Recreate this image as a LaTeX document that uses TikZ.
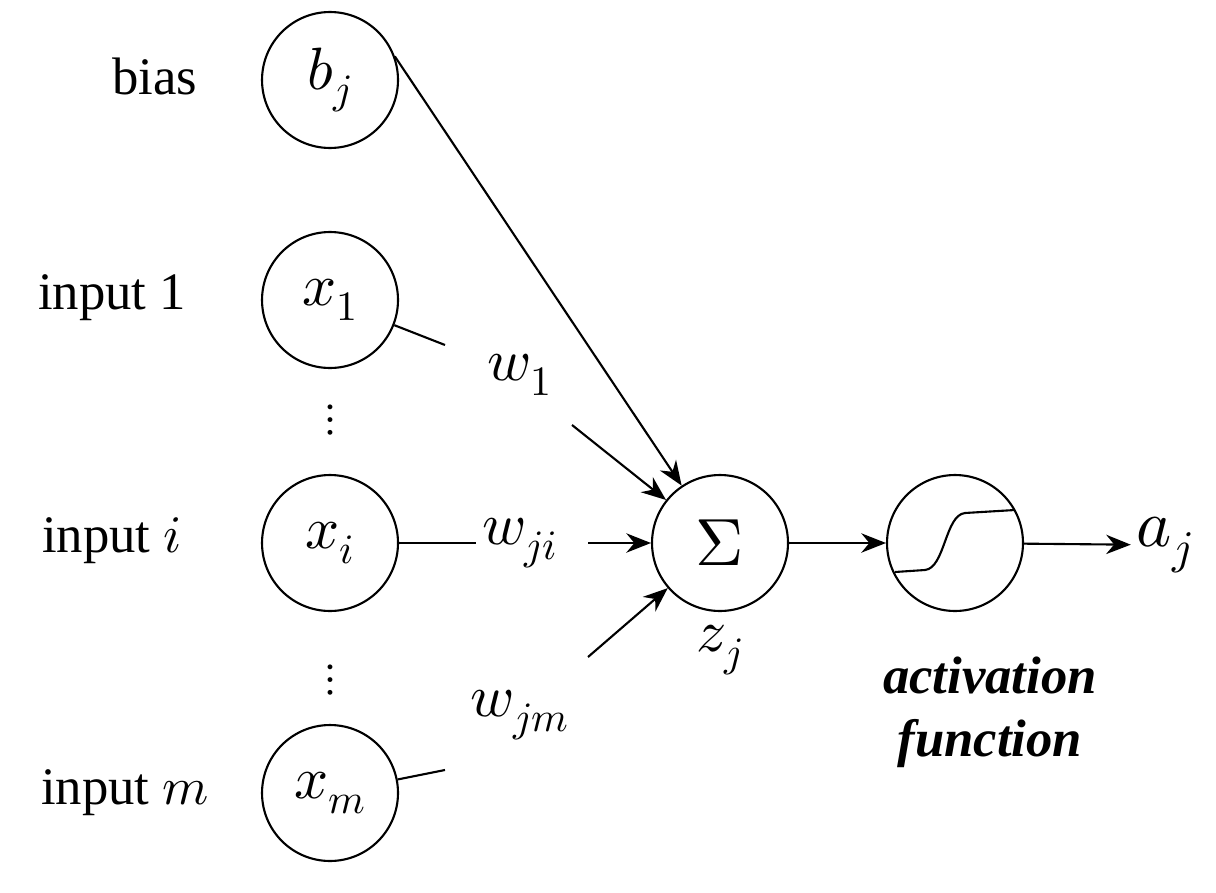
\documentclass[tikz,border=0pt]{standalone}
\usepackage{fontspec}
\usepackage{unicode-math}
\setmainfont{Liberation Serif}
\setmathfont{Latin Modern Math}
\usetikzlibrary{arrows.meta}
\begin{document}
\begin{tikzpicture}[x=0.02cm,y=-0.02cm,
  unit/.style={draw,circle,line width=1.2pt,minimum size=2.72cm,inner sep=0pt},
  lbl/.style={font=\fontsize{30}{36}\selectfont},
  mth/.style={font=\fontsize{34}{40}\selectfont},
  conn/.style={line width=1.2pt},
  arr/.style={conn,-{Stealth[length=14pt,width=11pt]}}]
\useasboundingbox (0,0) rectangle (1216,892);
\node[unit,mth] (b) at (330,80) {$b_j$};
\node[unit,mth] (x1) at (330,300) {$x_1$};
\node[unit,mth] (xi) at (330,543) {$x_i$};
\node[unit,mth] (xm) at (330,793) {$x_m$};
\node[unit,font=\fontsize{38}{44}\selectfont] (s) at (720,543) {$\Sigma$};
\node[unit] (f) at (955,543) {};
\node[lbl] (lb) at (155,76) {bias};
\node[lbl] (l1) at (112,298) {input 1};
\node[lbl] (li) at (112,541) {input $i$};
\node[lbl] (lm) at (125,793) {input $m$};
\node[font=\fontsize{26}{26}\selectfont\bfseries,inner sep=0pt] (d1) at (330,420) {$\vdots$};
\node[font=\fontsize{26}{26}\selectfont\bfseries,inner sep=0pt] (d2) at (330,680) {$\vdots$};
\node[mth] (w1) at (520,375) {$w_1$};
\node[mth] (wi) at (520,543) {$w_{ji}$};
\node[mth] (wm) at (520,715) {$w_{jm}$};
\node[mth] (z) at (720,650) {$z_j$};
\node[mth,font=\fontsize{38}{44}\selectfont] (a) at (1165,545) {$a_j$};
\node[lbl,font=\fontsize{30}{36}\selectfont\bfseries\itshape,align=center] (act) at (990,712) {activation\\function};
\coordinate (c1) at (445,345);
\coordinate (c1b) at (572,425);
\coordinate (cib) at (588,543);
\coordinate (cm) at (445,770);
\coordinate (cmb) at (588,657);
\draw[conn] (x1) -- (c1);
\draw[arr] (c1b) -- (s);
\draw[conn] (xi) -- (wi);
\draw[arr] (cib) -- (s);
\draw[conn] (xm) -- (cm);
\draw[arr] (cmb) -- (s);
\draw[arr] (b.20) -- (s);
\draw[arr] (s) -- (f);
\draw[arr] (f) -- (a);
\draw[line width=1.2pt] (895,572) -- (925,570) .. controls (945,568) and (945,515) .. (965,513) -- (1015,510);
\end{tikzpicture}
\end{document}
